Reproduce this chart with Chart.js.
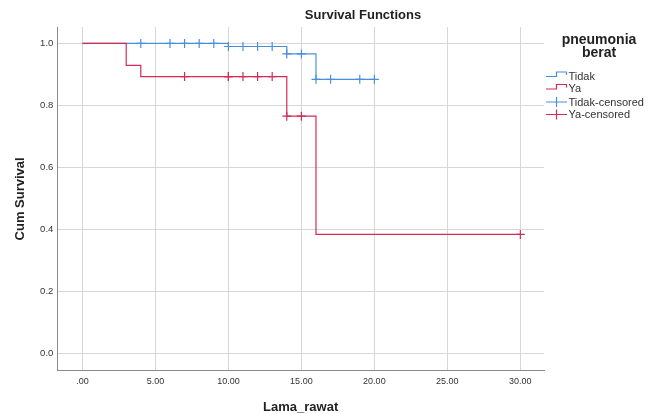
<!DOCTYPE html>
<html lang="en">
<head>
<meta charset="UTF-8">
<title>Survival Functions</title>
<style>
  body { margin: 0; background: #fff; }
</style>
</head>
<body>
<canvas id="km" width="656" height="414"></canvas>
<script src="https://cdn.jsdelivr.net/npm/chart.js"></script>
<script>
// Kaplan-Meier steps (time, cum survival)
const tidakTime = [0, 10, 14, 16, 20];
const tidakSurv = [1.0, 0.99, 0.966, 0.884, 0.884];
const yaTime = [0, 3, 4, 14, 16, 30];
const yaSurv = [1.0, 0.929, 0.893, 0.765, 0.383, 0.383];

// censored marks
const tidakCensTime = [4, 6, 7, 8, 9, 10, 11, 12, 13, 14, 15, 16, 17, 19, 20];
const tidakCensSurv = [1, 1, 1, 1, 1, 0.99, 0.99, 0.99, 0.99, 0.966, 0.966, 0.884, 0.884, 0.884, 0.884];
const yaCensTime = [7, 10, 10, 11, 12, 13, 14, 15, 30];
const yaCensSurv = [0.893, 0.893, 0.893, 0.893, 0.893, 0.893, 0.765, 0.765, 0.383];

const seriesLabels = ['Tidak', 'Ya', 'Tidak-censored', 'Ya-censored'];
const xTicks = [0, 5, 10, 15, 20, 25, 30];
const yTicks = [0, 0.2, 0.4, 0.6, 0.8, 1.0];

const BLUE = '#4a8fdd';
const RED = '#d42a55';
const FONT = "'Liberation Sans', Arial, sans-serif";

function pts(xs, ys) {
  return xs.map((x, i) => ({ x: x, y: ys[i] }));
}

// title + legend drawn by hand (SPSS style)
const spssDecor = {
  id: 'spssDecor',
  afterDraw(chart) {
    const ctx = chart.ctx;
    ctx.save();
    ctx.fillStyle = '#222';
    ctx.textAlign = 'center';
    ctx.textBaseline = 'middle';
    ctx.font = 'bold 13px ' + FONT;
    ctx.fillText('Survival Functions', 363, 15);

    ctx.font = 'bold 14px ' + FONT;
    ctx.fillText('pneumonia', 599, 40);
    ctx.fillText('berat', 599, 53);

    ctx.textAlign = 'left';
    ctx.font = '11px ' + FONT;
    const rowY = [76, 88.5, 102, 114.5];
    const cols = [BLUE, RED, BLUE, RED];
    for (let i = 0; i < seriesLabels.length; i++) {
      const cy = rowY[i];
      ctx.strokeStyle = cols[i];
      ctx.lineWidth = 1.2;
      ctx.beginPath();
      if (i < 2) {
        ctx.moveTo(546, cy + 0.5);
        ctx.lineTo(556.5, cy + 0.5);
        ctx.lineTo(556.5, cy - 4);
        ctx.lineTo(566.5, cy - 4);
        ctx.lineTo(566.5, cy - 1);
      } else {
        ctx.moveTo(546, cy);
        ctx.lineTo(567, cy);
        ctx.moveTo(556.5, cy - 5);
        ctx.lineTo(556.5, cy + 5);
      }
      ctx.stroke();
      ctx.fillStyle = '#333';
      ctx.fillText(seriesLabels[i], 568.5, cy + 0.5);
    }
    ctx.restore();
  }
};

new Chart(document.getElementById('km'), {
  type: 'line',
  data: {
    datasets: [
      {
        label: seriesLabels[0], data: pts(tidakTime, tidakSurv), order: 3,
        borderColor: BLUE, borderWidth: 1.2, stepped: true, pointRadius: 0, fill: false
      },
      {
        label: seriesLabels[1], data: pts(yaTime, yaSurv), order: 2,
        borderColor: RED, borderWidth: 1.2, stepped: true, pointRadius: 0, fill: false
      },
      {
        label: seriesLabels[2], data: pts(tidakCensTime, tidakCensSurv), order: 1,
        showLine: false, pointStyle: 'cross', pointRadius: 4.5,
        borderColor: BLUE, pointBorderWidth: 1.2, backgroundColor: BLUE
      },
      {
        label: seriesLabels[3], data: pts(yaCensTime, yaCensSurv), order: 0,
        showLine: false, pointStyle: 'cross', pointRadius: 4.5,
        borderColor: RED, pointBorderWidth: 1.2, backgroundColor: RED
      }
    ]
  },
  options: {
    responsive: false,
    animation: false,
    devicePixelRatio: 1,
    layout: { padding: { left: 0, right: 112, top: 27, bottom: 0 } },
    plugins: {
      legend: { display: false },
      title: { display: false },
      tooltip: { enabled: false }
    },
    scales: {
      x: {
        type: 'linear',
        min: -1.72,
        max: 31.62,
        afterFit(scale) { scale.height = 43.3; },
        afterBuildTicks(scale) { scale.ticks = xTicks.map(v => ({ value: v })); },
        ticks: {
          padding: 5,
          color: '#333',
          font: { family: FONT, size: 9 },
          callback: v => v === 0 ? '.00' : v.toFixed(2)
        },
        grid: { color: '#d6d6d6', lineWidth: 1, drawTicks: false },
        border: { color: '#8a8a8a', width: 1 },
        title: {
          display: true, text: 'Lama_rawat', color: '#222',
          font: { family: FONT, size: 13, weight: 'bold', lineHeight: 1 },
          padding: { top: 0, bottom: 0 }
        }
      },
      y: {
        min: -0.057,
        max: 1.053,
        afterFit(scale) { scale.width = 57.3; },
        afterBuildTicks(scale) { scale.ticks = yTicks.map(v => ({ value: v })); },
        ticks: {
          padding: 4,
          color: '#333',
          font: { family: FONT, size: 9.5 },
          callback: v => v.toFixed(1)
        },
        grid: { color: '#d6d6d6', lineWidth: 1, drawTicks: false },
        border: { color: '#8a8a8a', width: 1 },
        title: {
          display: true, text: 'Cum Survival', color: '#222',
          font: { family: FONT, size: 13, weight: 'bold', lineHeight: 1 },
          padding: { top: 14, bottom: 0 }
        }
      }
    }
  },
  plugins: [spssDecor]
});
</script>
</body>
</html>
